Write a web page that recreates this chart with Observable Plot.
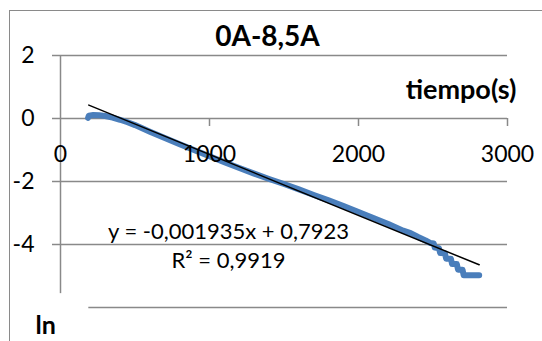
<!DOCTYPE html>
<html>
<head>
<meta charset="utf-8">
<script src="https://cdn.jsdelivr.net/npm/d3@7"></script>
<script src="https://cdn.jsdelivr.net/npm/@observablehq/plot@0.6"></script>
<style>
  html, body { margin: 0; padding: 0; background: #fff; overflow: hidden; }
  #wrap { position: relative; width: 542px; height: 341px; overflow: hidden; }
  #border { position: absolute; left: 9px; top: 10px; width: 600px; height: 400px;
            border: 1.5px solid #8a8a8a; box-sizing: border-box; pointer-events: none; }
  #wrap svg { position: absolute; left: 0; top: 0; }
</style>
</head>
<body>
<div id="wrap"><div id="border"></div></div>
<script>
// ---- data ----
const timeS = [185, 190, 220, 260, 300, 350, 400, 450, 500, 600, 700, 800, 900, 1000,
  1100, 1200, 1300, 1400, 1500, 1600, 1700, 1800, 1900, 2000, 2100, 2200, 2300, 2350,
  2400, 2450, 2480, 2505, 2512, 2540, 2548, 2580, 2588, 2620, 2628, 2660, 2668, 2698,
  2706, 2810];
const lnValues = [0.02, 0.09, 0.11, 0.10, 0.08, 0.03, -0.04, -0.12, -0.21, -0.42, -0.62,
  -0.82, -1.01, -1.20, -1.39, -1.57, -1.75, -1.92, -2.08, -2.25, -2.43, -2.60, -2.78,
  -2.97, -3.16, -3.35, -3.56, -3.64, -3.76, -3.87, -3.95, -3.97, -4.10, -4.12, -4.27,
  -4.28, -4.45, -4.45, -4.62, -4.62, -4.80, -4.80, -4.98, -4.98];
const trendX = [190, 2810];
const trendY = [0.425, -4.645];
const xTicks = [0, 1000, 2000, 3000];
const xTickLabels = ["0", "1000", "2000", "3000"];
const yTicks = [2, 0, -2, -4];
const yTickLabels = ["2", "0", "-2", "-4"];
const yGridHidden = [-6];
const titleText = "0A-8,5A";
const xTitle = "tiempo(s)";
const yTitle = "ln";
const eqText = "y = -0,001935x + 0,7923";
const r2Text = "R² = 0,9919";

const series = timeS.map((t, i) => ({t, v: lnValues[i]}));
const trend = trendX.map((t, i) => ({t, v: trendY[i]}));

const gray = "#898989";
const font = "Lato";

const chart = Plot.plot({
  width: 542,
  height: 341,
  marginLeft: 60,
  marginRight: 35,
  marginTop: 55,
  marginBottom: 34,
  style: {fontFamily: font, background: "transparent", color: "#000", overflow: "visible"},
  x: {domain: [0, 3000], axis: null},
  y: {domain: [-6, 2], axis: null},
  marks: [
    // gridlines
    Plot.ruleY(yTicks, {y: d => d, x1: 0, x2: 3000, stroke: gray, strokeWidth: 1.5}),
    Plot.ruleY(yGridHidden, {y: d => d, x1: 190, x2: 3000, stroke: gray, strokeWidth: 1.5}),
    // y axis line and ticks
    Plot.ruleX([0], {x: d => d, y1: -5.56, y2: 2, stroke: gray, strokeWidth: 1.5}),
    Plot.ruleY(yTicks, {y: d => d, x1: 0, x2: 0, insetLeft: -8, stroke: gray, strokeWidth: 1.5}),
    // x axis ticks (down from y = 0)
    Plot.ruleX(xTicks.slice(1), {x: d => d, y1: 0, y2: 0, insetBottom: -8, stroke: gray, strokeWidth: 1.5}),
    // data
    Plot.line(series, {x: "t", y: "v", stroke: "#4a7ebb", strokeWidth: 6, strokeLinejoin: "round", strokeLinecap: "round"}),
    Plot.line(trend, {x: "t", y: "v", stroke: "#000", strokeWidth: 1.5}),
    // tick labels
    Plot.text(xTicks, {x: d => d, y: 0, text: (d, i) => xTickLabels[i], dy: 36, fontSize: 23, fill: "#000"}),
    Plot.text(yTicks, {x: 0, y: d => d, text: (d, i) => yTickLabels[i], dx: -26, textAnchor: "end", fontSize: 23, fill: "#000"}),
    // titles
    Plot.text([titleText], {frameAnchor: "top", lineAnchor: "bottom", dx: -16.5, dy: -10, fontSize: 28, fontWeight: "bold", fill: "#000"}),
    Plot.text([xTitle], {frameAnchor: "top-right", textAnchor: "end", lineAnchor: "bottom", dx: 9, dy: 43, fontSize: 27, fontWeight: "bold", fill: "#000"}),
    Plot.text([yTitle], {frameAnchor: "bottom-left", textAnchor: "start", lineAnchor: "bottom", dx: -25, dy: 26, fontSize: 25, fontWeight: "bold", fill: "#000"}),
    // trendline label
    Plot.text([eqText], {frameAnchor: "top-left", textAnchor: "middle", lineAnchor: "bottom", dx: 168, dy: 183, fontSize: 22, fill: "#000"}),
    Plot.text([r2Text], {frameAnchor: "top-left", textAnchor: "middle", lineAnchor: "bottom", dx: 168, dy: 212, fontSize: 22, fill: "#000"})
  ]
});
document.getElementById("wrap").insertBefore(chart, document.getElementById("border"));
</script>
</body>
</html>
